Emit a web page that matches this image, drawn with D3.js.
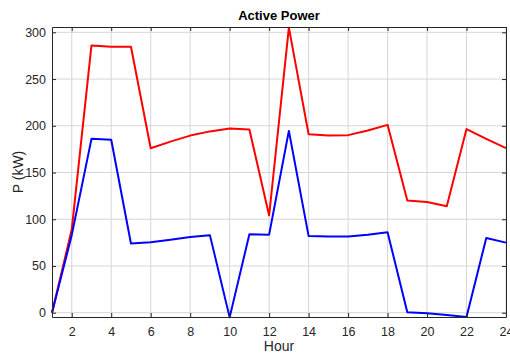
<!DOCTYPE html>
<html>
<head>
<meta charset="utf-8">
<script src="https://cdn.jsdelivr.net/npm/d3@7"></script>
<style>
  body { margin: 0; background: #fff; overflow: hidden; }
  text { font-family: "Liberation Sans", Arial, sans-serif; }
</style>
</head>
<body>
<svg width="510" height="354"></svg>
<script>
var svg = d3.select('svg');

// Hourly data
var hours = [1, 2, 3, 4, 5, 6, 7, 8, 9, 10, 11, 12, 13, 14, 15, 16, 17, 18, 19, 20, 21, 22, 23, 24];
var redPower = [0, 89, 286, 284.5, 284.5, 176, 183, 189.5, 194, 197, 196, 104, 305, 191, 189.5, 190, 195, 201, 120, 118.5, 114, 196.5, 186, 176];
var bluePower = [0, 83, 186, 185, 74, 75.5, 78, 81, 83, -5, 84, 83.5, 194.5, 82, 81.5, 81.5, 83.5, 86, 0.5, -0.5, -2.5, -4.5, 80, 75];
var xTicks = [2, 4, 6, 8, 10, 12, 14, 16, 18, 20, 22, 24];
var yTicks = [0, 50, 100, 150, 200, 250, 300];

var plotLeft = 52, plotRight = 506, plotTop = 27, plotBottom = 317;

var x = d3.scaleLinear().domain([1, 24]).range([plotLeft, plotRight]);
var y = d3.scaleLinear().domain([-4.6, 305.7]).range([plotBottom, plotTop]);

// grid
var grid = svg.append('g');
grid.selectAll('.vg')
    .data(xTicks)
    .enter()
    .append('line')
    .attr('x1', function(d) { return x(d); })
    .attr('x2', function(d) { return x(d); })
    .attr('y1', plotTop)
    .attr('y2', plotBottom)
    .attr('stroke', '#d6d6d6')
    .attr('stroke-width', 1);
grid.selectAll('.hg')
    .data(yTicks)
    .enter()
    .append('line')
    .attr('x1', plotLeft)
    .attr('x2', plotRight)
    .attr('y1', function(d) { return y(d); })
    .attr('y2', function(d) { return y(d); })
    .attr('stroke', '#d6d6d6')
    .attr('stroke-width', 1);

// lines
var line = d3.line()
    .x(function(d) { return x(d[0]); })
    .y(function(d) { return y(d[1]); });

svg.append('path')
    .datum(d3.zip(hours, redPower))
    .attr('d', line)
    .attr('fill', 'none')
    .attr('stroke', '#ff0000')
    .attr('stroke-width', 2)
    .attr('stroke-linejoin', 'round');

svg.append('path')
    .datum(d3.zip(hours, bluePower))
    .attr('d', line)
    .attr('fill', 'none')
    .attr('stroke', '#0000ff')
    .attr('stroke-width', 2)
    .attr('stroke-linejoin', 'round');

// axes (ticks inward, box around)
var axisColor = '#262626';
var xAxis = svg.append('g')
    .attr('transform', 'translate(0,' + plotBottom + ')')
    .call(d3.axisBottom(x).tickValues(xTicks).tickSizeInner(-4).tickSizeOuter(0).tickPadding(10));
var xTop = svg.append('g')
    .attr('transform', 'translate(0,' + plotTop + ')')
    .call(d3.axisTop(x).tickValues(xTicks).tickSizeInner(-4).tickSizeOuter(0).tickFormat(''));
var yAxis = svg.append('g')
    .attr('transform', 'translate(' + plotLeft + ',0)')
    .call(d3.axisLeft(y).tickValues(yTicks).tickSizeInner(-4).tickSizeOuter(0).tickPadding(6));
var yRight = svg.append('g')
    .attr('transform', 'translate(' + plotRight + ',0)')
    .call(d3.axisRight(y).tickValues(yTicks).tickSizeInner(-4).tickSizeOuter(0).tickFormat(''));

[xAxis, xTop, yAxis, yRight].forEach(function(g) {
    g.selectAll('path, line').attr('stroke', axisColor);
    g.selectAll('text')
        .style('font-size', '12.5px')
        .style('font-family', '"Liberation Sans", Arial, sans-serif')
        .attr('fill', axisColor);
});

// titles
svg.append('text')
    .text('Active Power')
    .attr('x', (plotLeft + plotRight) / 2)
    .attr('y', 20)
    .style('text-anchor', 'middle')
    .style('font-size', '13px')
    .style('font-weight', 'bold')
    .style('fill', '#000');

svg.append('text')
    .text('Hour')
    .attr('x', (plotLeft + plotRight) / 2)
    .attr('y', 351)
    .style('text-anchor', 'middle')
    .style('font-size', '14px')
    .style('fill', axisColor);

svg.append('text')
    .text('P (kW)')
    .attr('transform', 'translate(23,' + ((plotTop + plotBottom) / 2) + ') rotate(-90)')
    .style('text-anchor', 'middle')
    .style('font-size', '14px')
    .style('fill', axisColor);
</script>
</body>
</html>
